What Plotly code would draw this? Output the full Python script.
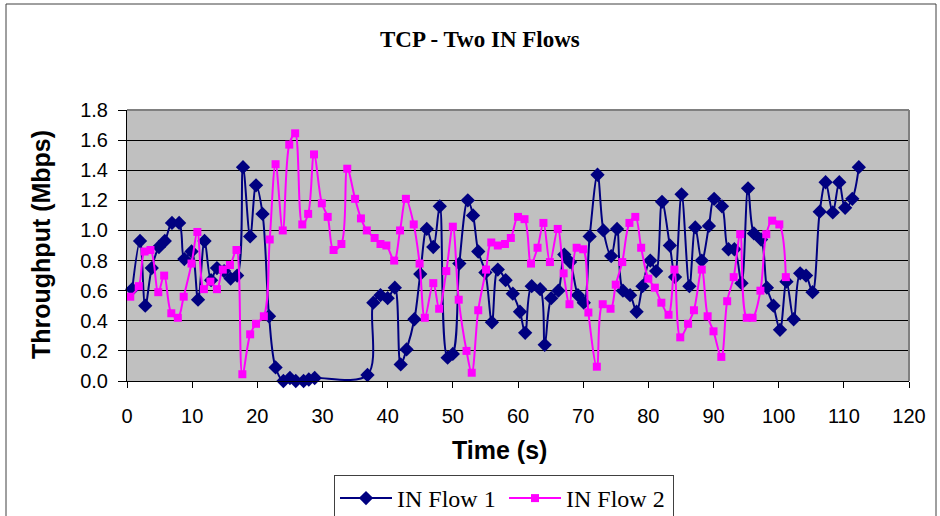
import plotly.graph_objects as go

# ---- data ----
time_1 = [0.8, 2.0, 2.8, 3.8, 4.9, 5.8, 6.9, 8.0, 8.8, 9.9, 10.9, 11.9, 12.9, 13.8, 14.9,
          15.9, 16.9, 17.8, 18.9, 19.8, 20.8, 21.8, 22.8, 24.0, 25.0, 25.9, 27.1, 27.9, 28.8,
          36.9, 37.8, 38.9, 40.0, 41.1, 42.0, 42.9, 44.1, 45.0, 46.0, 47.0, 48.0, 49.2, 50.0,
          51.0, 52.3, 53.1, 53.9, 55.0, 56.0, 56.9, 58.1, 59.2, 60.3, 61.1, 62.1, 63.4, 64.1,
          65.1, 66.2, 67.1, 68.0, 69.2, 70.1, 71.0, 72.2, 73.1, 74.3, 75.2, 76.1, 77.2, 78.2,
          79.1, 80.3, 81.2, 82.1, 83.3, 84.1, 85.1, 86.3, 87.2, 88.2, 89.3, 90.1, 91.3, 92.3,
          93.2, 94.3, 95.3, 96.2, 97.3, 98.2, 99.2, 100.2, 101.2, 102.3, 103.3, 104.2, 105.2,
          106.3, 107.2, 108.3, 109.3, 110.2, 111.3, 112.3]
flow_1 = [0.61, 0.93, 0.50, 0.75, 0.89, 0.93, 1.05, 1.05, 0.81, 0.86, 0.54, 0.93, 0.67, 0.75, 0.73,
          0.68, 0.70, 1.42, 0.96, 1.30, 1.11, 0.43, 0.09, 0.00, 0.02, 0.00, 0.00, 0.01, 0.02,
          0.04, 0.52, 0.57, 0.55, 0.62, 0.11, 0.21, 0.41, 0.71, 1.01, 0.89, 1.16, 0.155, 0.18,
          0.78, 1.20, 1.10, 0.86, 0.72, 0.39, 0.74, 0.67, 0.58, 0.46, 0.32, 0.63, 0.61, 0.24,
          0.55, 0.60, 0.84, 0.79, 0.57, 0.52, 0.96, 1.37, 1.00, 0.83, 1.01, 0.60, 0.57, 0.46,
          0.63, 0.80, 0.73, 1.19, 0.90, 0.69, 1.24, 0.63, 1.02, 0.80, 1.03, 1.21, 1.16, 0.875,
          0.875, 0.65, 1.28, 0.98, 0.94, 0.62, 0.50, 0.34, 0.66, 0.41, 0.715, 0.70, 0.59,
          1.125, 1.32, 1.12, 1.32, 1.15, 1.21, 1.42]

time_2 = [0.5, 1.8, 2.7, 3.6, 4.8, 5.7, 6.8, 7.8, 8.7, 9.9, 10.8, 11.8, 12.8, 13.8, 14.7,
          15.8, 16.8, 17.7, 18.9, 19.8, 21.0, 21.9, 22.8, 23.9, 24.9, 25.8, 26.9, 27.8, 28.7,
          29.9, 30.8, 31.7, 32.9, 33.8, 35.0, 35.9, 36.8, 38.0, 38.9, 39.8, 41.0, 41.9, 42.8,
          44.0, 44.9, 45.7, 47.0, 47.9, 49.0, 50.0, 50.9, 52.1, 52.9, 53.9, 55.1, 55.9, 56.9,
          58.0, 58.9, 60.0, 61.0, 62.0, 63.0, 63.9, 64.9, 66.1, 67.0, 67.9, 69.0, 70.0, 70.8,
          72.1, 73.0, 74.2, 75.0, 76.0, 77.1, 78.0, 78.9, 80.0, 81.0, 82.0, 83.1, 84.0, 84.9,
          86.1, 87.0, 88.2, 89.1, 90.0, 91.2, 92.1, 93.1, 94.1, 95.1, 96.0, 97.2, 98.1, 99.0,
          100.1, 101.1]
flow_2 = [0.56, 0.63, 0.86, 0.87, 0.59, 0.70, 0.45, 0.42, 0.56, 0.78, 0.99, 0.61, 0.66, 0.61, 0.74,
          0.77, 0.87, 0.045, 0.31, 0.38, 0.43, 0.94, 1.44, 1.00, 1.57, 1.645, 1.04, 1.11, 1.505,
          1.18, 1.09, 0.87, 0.91, 1.41, 1.21, 1.08, 1.00, 0.95, 0.91, 0.90, 0.80, 1.00, 1.21,
          1.04, 0.78, 0.42, 0.65, 0.48, 0.73, 1.025, 0.54, 0.20, 0.055, 0.47, 0.74, 0.92, 0.90,
          0.91, 0.95, 1.09, 1.075, 0.78, 0.885, 1.05, 0.79, 1.01, 0.715, 0.51, 0.885, 0.875, 0.455,
          0.095, 0.51, 0.48, 0.64, 0.79, 1.05, 1.09, 0.885, 0.68, 0.62, 0.52, 0.44, 0.74, 0.29,
          0.38, 0.47, 0.74, 0.43, 0.33, 0.16, 0.53, 0.69, 0.975, 0.42, 0.42, 0.60, 0.975, 1.065,
          1.04, 0.69]

x_ticks = list(range(0, 121, 10))
y_ticks = [0.0, 0.2, 0.4, 0.6, 0.8, 1.0, 1.2, 1.4, 1.6, 1.8]

# ---- layout geometry (pixels) ----
W, H = 940, 516
L, R, T, B = 127, 909, 110, 381
pw, ph = R - L, B - T

def px(x):
    return (x - L) / pw

def py(y):
    return (B - y) / ph

fig = go.Figure()
fig.add_trace(go.Scatter(
    x=time_1, y=flow_1, name="IN Flow 1", mode="lines+markers",
    line=dict(color="#000080", width=2, shape="spline", smoothing=1.0),
    marker=dict(symbol="diamond", size=11, color="#000080"),
    cliponaxis=False,
))
fig.add_trace(go.Scatter(
    x=time_2, y=flow_2, name="IN Flow 2", mode="lines+markers",
    line=dict(color="#FF00FF", width=2, shape="spline", smoothing=1.0),
    marker=dict(symbol="square", size=8, color="#FF00FF"),
    cliponaxis=False,
))

axis_font = dict(family="Liberation Sans, Arial", size=20, color="black")

fig.update_layout(
    width=W, height=H,
    margin=dict(l=L, r=W - R, t=T, b=H - B, autoexpand=False),
    paper_bgcolor="white",
    plot_bgcolor="#C0C0C0",
    showlegend=True,
    legend=dict(
        orientation="h", x=px(334), xanchor="left", y=py(475), yanchor="top",
        font=dict(family="Liberation Serif, Times New Roman", size=24, color="black"),
        bordercolor="#404040", borderwidth=1, bgcolor="white",
        entrywidth=102, itemwidth=52, traceorder="normal",
    ),
    xaxis=dict(
        range=[0, 120], tickvals=x_ticks, ticktext=[str(v) for v in x_ticks],
        showgrid=False, zeroline=False,
        showline=True, linecolor="black", linewidth=1,
        ticks="outside", ticklen=6, tickcolor="black",
        tickfont=axis_font, ticklabelstandoff=11,
    ),
    yaxis=dict(
        range=[0, 1.8], tickvals=y_ticks, ticktext=[f"{v:.1f}" for v in y_ticks],
        showgrid=True, gridcolor="black", gridwidth=1, zeroline=False,
        showline=True, linecolor="black", linewidth=1,
        ticks="outside", ticklen=8, tickcolor="black",
        tickfont=axis_font, ticklabelstandoff=6,
    ),
    shapes=[
        # plot-area frame (top/right gray)
        dict(type="line", xref="paper", yref="paper", x0=0, x1=1, y0=1, y1=1,
             line=dict(color="#808080", width=2)),
        dict(type="line", xref="paper", yref="paper", x0=1, x1=1, y0=0, y1=1,
             line=dict(color="#808080", width=2)),
        # outer chart border
        dict(type="rect", xref="paper", yref="paper",
             x0=px(6), x1=px(936), y0=py(530), y1=py(4),
             line=dict(color="#404040", width=1), fillcolor="rgba(0,0,0,0)"),
    ],
    annotations=[
        dict(text="<b>TCP - Two IN Flows</b>", xref="paper", yref="paper",
             x=px(480), y=py(40), xanchor="center", yanchor="middle", showarrow=False,
             font=dict(family="Liberation Serif, Times New Roman", size=23, color="black")),
        dict(text="<b>Time (s)</b>", xref="paper", yref="paper",
             x=px(499), y=py(450), xanchor="center", yanchor="middle", showarrow=False,
             font=dict(family="Liberation Sans, Arial", size=25, color="black")),
        dict(text="<b>Throughput (Mbps)</b>", xref="paper", yref="paper",
             x=px(41), y=py(245), xanchor="center", yanchor="middle", showarrow=False,
             textangle=-90,
             font=dict(family="Liberation Sans, Arial", size=25, color="black")),
    ],
)

fig.write_html("out.html")
